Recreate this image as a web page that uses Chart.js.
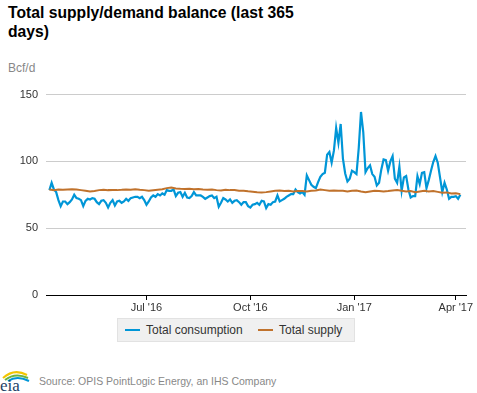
<!DOCTYPE html>
<html>
<head>
<meta charset="utf-8">
<script src="https://cdn.jsdelivr.net/npm/chart.js@4/dist/chart.umd.min.js"></script>
<style>
    body {
        margin: 0;
        width: 477px;
        height: 393px;
        background: #fff;
        font-family: "Liberation Sans", Arial, sans-serif;
        position: relative;
        overflow: hidden;
    }
    #title {
        position: absolute;
        left: 8px;
        top: 3px;
        font-size: 15.7px;
        font-weight: bold;
        line-height: 19px;
        color: #000;
    }
    #unit {
        position: absolute;
        left: 8px;
        top: 61px;
        font-size: 12px;
        color: #888;
    }
    #wrap {
        position: absolute;
        left: 0;
        top: 80px;
        width: 477px;
        height: 240px;
    }
    #legend {
        position: absolute;
        left: 117px;
        top: 318px;
        width: 236px;
        height: 22px;
        background: #f0f0f0;
        border: 1px solid #e2e2e2;
        font-size: 12px;
        color: #333;
    }
    .item {
        position: absolute;
        top: 4px;
        white-space: nowrap;
    }
    .swatch {
        display: inline-block;
        width: 15px;
        height: 2px;
        vertical-align: middle;
        margin-right: 6px;
        position: relative;
        top: -1px;
    }
    #source {
        position: absolute;
        left: 39px;
        top: 375px;
        font-size: 10.5px;
        color: #888;
    }
    #logo {
        position: absolute;
        left: 0;
        top: 367px;
    }
</style>
</head>
<body>
<div id="title">Total supply/demand balance (last 365<br>days)</div>
<div id="unit">Bcf/d</div>
<div id="wrap"><canvas id="chart" width="477" height="240"></canvas></div>
<div id="legend">
    <span class="item" style="left:7px"><span class="swatch" style="background:#0096d7"></span>Total consumption</span>
    <span class="item" style="left:140px"><span class="swatch" style="background:#c0722c"></span>Total supply</span>
</div>
<svg id="logo" width="32" height="26" viewBox="0 0 32 26">
    <path d="M3 11 Q14 1 27 8" stroke="#f2c500" stroke-width="2" fill="none"/>
    <path d="M5 13 Q15 5 28 11" stroke="#6bb33f" stroke-width="2" fill="none"/>
    <path d="M8 14 Q17 8 29 14" stroke="#0096d7" stroke-width="2" fill="none"/>
    <text x="0" y="24" font-family="Liberation Serif, serif" font-size="17" fill="#1c3f66">eia</text>
</svg>
<div id="source">Source: OPIS PointLogic Energy, an IHS Company</div>

<script>
    // days since Apr 6 2016, one value every 2 days (consumption) / 4 days (supply)
    const consumptionStep = 2;
    const supplyStep = 4;
    const tickDays = [86, 178, 270, 360];
    const tickLabels = ["Jul '16", "Oct '16", "Jan '17", "Apr '17"];
    const yTicks = [0, 50, 100, 150];

    const consumption = [
        78.5, 84, 79, 77, 71, 66.5, 70, 70, 68, 69.5,
        71.5, 75, 72.5, 72, 71, 66.5, 70.5, 72, 71.5, 72.5,
        72, 69.5, 68, 70.5, 71, 69, 65.5, 69, 71, 67,
        70, 70.5, 69, 70, 72, 70.5, 72.5, 73, 73.5, 73.5,
        72.5, 73.5, 71, 67.5, 70, 73, 74.5, 73.5, 75.5, 74.5,
        76, 75, 78.5, 78, 78, 79, 74, 76.5, 77, 73.5,
        76.5, 73, 72.5, 74, 77, 74.5, 74.5, 74.5, 73.5, 72,
        73, 74, 74.5, 72.5, 73.5, 66, 69, 72.5, 71.5, 70,
        71.5, 69, 70.5, 71, 69.5, 67.5, 69.5, 69.5, 66.5, 65.5,
        67.5, 68, 69, 67.5, 70.5, 70, 65, 68, 67.5, 69.5,
        70, 74.5, 70, 71, 72, 73.5, 74.5, 75.5, 75.5, 79,
        77, 76, 77, 75, 89.5, 86, 82.5, 81, 80, 84.5,
        88.5, 90.5, 91.5, 105, 107, 99, 108, 125, 114, 128,
        102, 91, 85, 87, 93, 92, 90.5, 110, 137, 122,
        92, 95, 97, 90.5, 88.5, 82, 84, 94, 101.5, 101,
        93, 100, 104, 87, 84, 96, 78, 88, 89, 79,
        73, 74, 74, 89, 83, 91.5, 92, 80, 86, 93,
        99.5, 104, 99, 88, 77, 84, 79, 72, 73.5, 73.5,
        74, 72, 75
    ];

    const supply = [
        79, 78.5, 79, 78.8, 79, 79.2,
        79, 78.5, 78, 77.5, 77.8, 78.5, 78.8, 78.5, 78.6, 78.5,
        78.7, 79, 78.8, 79.2, 78.7, 78.5, 78, 78.4, 78.8, 79.2,
        80, 80.5, 79.8, 79.5, 79.3, 79.5, 79.2, 79.3, 79, 78.8,
        79, 78.5, 78.2, 78.8, 78.5, 78.5, 78, 78, 77.6, 77.3,
        77, 76.8, 77, 77.5, 78, 78.2, 77.8, 78, 77.5, 77.8,
        77.8, 77.5, 78, 78.2, 79, 78.5, 78, 78.3, 78, 78,
        77.5, 78, 78.2, 77.5, 77, 77.5, 78, 77.8, 77.5, 77.8,
        78.2, 78.5, 78, 77.5, 77.8, 77, 77.5, 78, 77.5, 77.8,
        77.2, 76.5, 76.8, 76, 76.2, 75.5
    ];

    const fontFamily = '"Liberation Sans", Arial, sans-serif';

    new Chart(document.getElementById('chart'), {
        type: 'line',
        data: {
            datasets: [
                {
                    label: 'Total consumption',
                    data: consumption.map((v, i) => ({ x: i * consumptionStep, y: v })),
                    borderColor: '#0096d7',
                    borderWidth: 2.2,
                    pointRadius: 0,
                    order: 1
                },
                {
                    label: 'Total supply',
                    data: supply.map((v, i) => ({ x: i * supplyStep, y: v })),
                    borderColor: '#c0722c',
                    borderWidth: 2,
                    pointRadius: 0,
                    order: 0
                }
            ]
        },
        options: {
            responsive: false,
            animation: false,
            layout: { padding: { top: 8, right: 11, left: 0, bottom: 0 } },
            plugins: { legend: { display: false }, tooltip: { enabled: false } },
            scales: {
                x: {
                    type: 'linear',
                    min: -3,
                    max: 369,
                    afterBuildTicks: function (scale) {
                        scale.ticks = tickDays.map(v => ({ value: v }));
                    },
                    afterFit: function (scale) {
                        scale.height = 25;
                    },
                    ticks: {
                        autoSkip: false,
                        maxRotation: 0,
                        padding: 1,
                        color: '#333',
                        font: { size: 11, family: fontFamily },
                        callback: function (value) {
                            return tickLabels[tickDays.indexOf(value)];
                        }
                    },
                    grid: { drawOnChartArea: false, drawTicks: true, tickLength: 5, color: '#000' },
                    border: { display: true, color: '#000', width: 1 }
                },
                y: {
                    min: 0,
                    max: 150,
                    afterBuildTicks: function (scale) {
                        scale.ticks = yTicks.map(v => ({ value: v }));
                    },
                    afterFit: function (scale) {
                        scale.width = 46;
                    },
                    ticks: {
                        padding: 8,
                        color: '#333',
                        font: { size: 11, family: fontFamily }
                    },
                    grid: {
                        drawTicks: false,
                        color: ctx => ctx.tick && ctx.tick.value === 0 ? 'rgba(0,0,0,0)' : '#ccc'
                    },
                    border: { display: false }
                }
            }
        }
    });
</script>
</body>
</html>
